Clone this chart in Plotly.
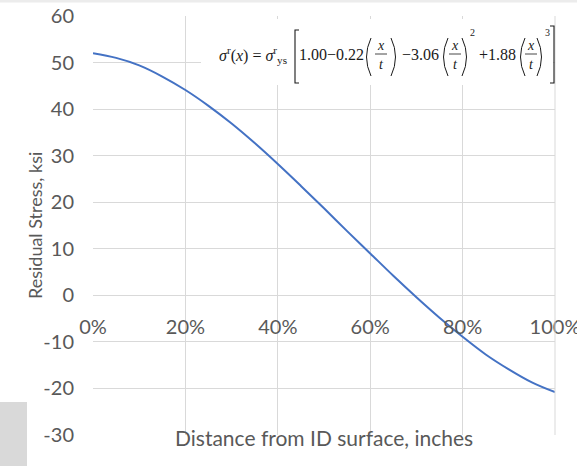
import plotly.graph_objects as go

# Data
depth_frac = [0.00, 0.05, 0.10, 0.15, 0.20, 0.25, 0.30, 0.35, 0.40, 0.45, 0.50,
              0.55, 0.60, 0.65, 0.70, 0.75, 0.80, 0.85, 0.90, 0.95, 1.00]
stress_ksi = [52.0, 51.0, 49.4, 47.0, 44.1, 40.7, 36.9, 32.7, 28.2, 23.5, 18.7,
              13.8, 9.0, 4.2, -0.4, -4.8, -8.9, -12.7, -15.9, -18.7, -20.8]
x_ticks = [0, 0.2, 0.4, 0.6, 0.8, 1.0]
x_tick_labels = ["0%", "20%", "40%", "60%", "80%", "100%"]
y_ticks = [-30, -20, -10, 0, 10, 20, 30, 40, 50, 60]
y_tick_labels = ["-30", "-20", "-10", "0", "10", "20", "30", "40", "50", "60"]

W, H = 577, 466
ml, mr, mt, mb = 93, 22, 16, 31
ph = H - mt - mb
pw = W - ml - mr


def px_x(p):
    return (p - ml) / pw


def px_y(p):
    return (H - mb - p) / ph


font_fam = "Lato, 'Open Sans', sans-serif"
serif = "'Liberation Serif', 'Times New Roman', serif"
grid_col = "#d9d9d9"
tick_col = "#595959"
eq_col = "#1a1a1a"

fig = go.Figure()
fig.add_trace(go.Scatter(
    x=depth_frac, y=stress_ksi, mode="lines",
    line=dict(color="#4472c4", width=2, shape="spline"),
    showlegend=False, hoverinfo="skip",
))

shapes = [
    dict(type="line", xref="paper", yref="paper", x0=1, x1=1, y0=0, y1=1,
         line=dict(color=grid_col, width=1)),
    dict(type="rect", xref="paper", yref="paper",
         x0=px_x(201), x1=px_x(553), y0=px_y(85), y1=px_y(19),
         fillcolor="white", line=dict(width=0), layer="above"),
    dict(type="rect", xref="paper", yref="paper",
         x0=px_x(0), x1=px_x(27), y0=px_y(466), y1=px_y(402),
         fillcolor="#d9d9d9", line=dict(width=0)),
    dict(type="line", xref="paper", yref="paper",
         x0=px_x(0), x1=px_x(577), y0=px_y(1), y1=px_y(1),
         line=dict(color="#ececec", width=3)),
]


def pth(points, curve=False):
    # build an svg path in paper coordinates from pixel points
    if curve:
        (a, b), (c, d), (e, f) = points
        return "M {},{} Q {},{} {},{}".format(px_x(a), px_y(b), px_x(c), px_y(d), px_x(e), px_y(f))
    s = "M {},{}".format(px_x(points[0][0]), px_y(points[0][1]))
    for (a, b) in points[1:]:
        s += " L {},{}".format(px_x(a), px_y(b))
    return s


def add_path(d, w=1.1):
    shapes.append(dict(type="path", xref="paper", yref="paper", path=d,
                       line=dict(color=eq_col, width=w), layer="above"))


# square brackets
add_path(pth([(299, 30), (295, 30), (295, 83), (299, 83)]))
add_path(pth([(550, 26), (554, 26), (554, 83), (550, 83)]))
# parentheses + fraction bars for three x/t terms
frac_centers = [381, 455, 531]
paren_pairs = [(371, 391), (448, 462), (525, 537)]
for (lp, rp), fc in zip(paren_pairs, frac_centers):
    add_path(pth([(lp, 38), (lp - 9, 57), (lp, 76)], curve=True), 1.0)
    add_path(pth([(rp, 38), (rp + 9, 57), (rp, 76)], curve=True), 1.0)
    add_path(pth([(fc - 6, 54), (fc + 6, 54)]), 0.8)


def txt(s, x, y, size, xanchor="center"):
    return dict(text=s, xref="paper", yref="paper", x=px_x(x), y=px_y(y),
                xanchor=xanchor, yanchor="middle", showarrow=False,
                font=dict(size=size, color=eq_col, family=serif))


annotations = [
    dict(text="Distance from ID surface, inches", xref="paper", yref="paper",
         x=px_x(324), y=px_y(452), showarrow=False,
         font=dict(size=21, color=tick_col, family=font_fam)),
    dict(text="Residual Stress, ksi", xref="paper", yref="paper",
         x=px_x(22), y=px_y(226), textangle=-90, showarrow=False,
         font=dict(size=18, color=tick_col, family=font_fam)),
    txt("<i>σ</i><sup>r</sup>(<i>x</i>) = <i>σ</i><sup>r</sup><sub>ys</sub>", 253, 55, 16),
    txt("1.00−0.22", 331, 54, 16),
    txt("−3.06", 420, 54, 16),
    txt("+1.88", 497, 54, 16),
    txt("2", 472, 33, 10),
    txt("3", 547, 33, 10),
]
for fc in frac_centers:
    annotations.append(txt("<i>x</i>", fc, 45, 14))
    annotations.append(txt("<i>t</i>", fc, 64, 14))

fig.update_layout(
    width=W, height=H,
    margin=dict(l=ml, r=mr, t=mt, b=mb, autoexpand=False),
    paper_bgcolor="white", plot_bgcolor="white",
    font=dict(family=font_fam, size=20, color=tick_col),
    xaxis=dict(
        range=[0, 1], tickvals=x_ticks, ticktext=x_tick_labels,
        showgrid=True, gridcolor=grid_col, gridwidth=1,
        zeroline=False, showline=False, automargin=False,
        anchor="free", position=px_y(296),
        ticks="outside", ticklen=13, tickcolor="rgba(0,0,0,0)",
        ticklabeloverflow="allow",
        tickfont=dict(size=20, color=tick_col, family=font_fam),
    ),
    yaxis=dict(
        range=[-30, 60], tickvals=y_ticks, ticktext=y_tick_labels,
        showgrid=True, gridcolor=grid_col, gridwidth=1,
        zeroline=True, zerolinecolor=grid_col, zerolinewidth=1,
        showline=False, automargin=False,
        ticks="outside", ticklen=14, tickcolor="rgba(0,0,0,0)",
        tickfont=dict(size=20, color=tick_col, family=font_fam),
    ),
    shapes=shapes,
    annotations=annotations,
)

fig.write_html("out.html")
